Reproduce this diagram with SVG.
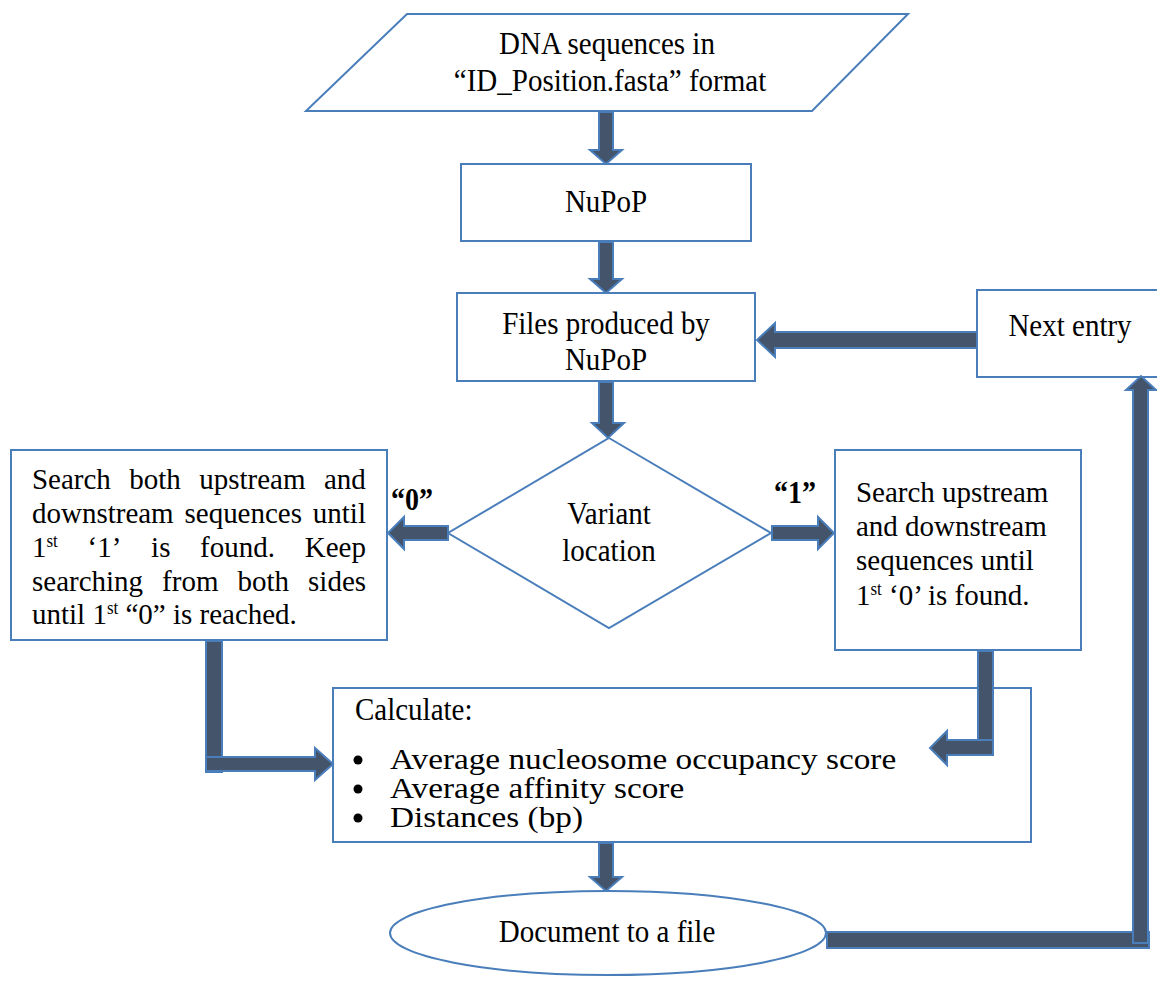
<svg xmlns="http://www.w3.org/2000/svg" width="1157" height="983" viewBox="0 0 1157 983">
<style>
.box{fill:#ffffff;stroke:#4a7ebb;stroke-width:2}
.arr{fill:#44546a;stroke:#4a7ebb;stroke-width:2;stroke-linejoin:miter}
.dot{fill:#000}
text{font-family:'Liberation Serif','Times New Roman',Times,'DejaVu Serif',serif;font-size:29px;fill:#000}
.c{text-anchor:middle}
.b{font-weight:bold;font-size:28px}
.sup{font-size:17px}
</style>
<rect width="1157" height="983" fill="#ffffff"/>
<g id="input">
<polygon class="box" points="407,14 908,14 812,111 306,111"/>
<text class="c" transform="translate(607,54) scale(1,1.08)">DNA sequences in</text>
<text class="c" transform="translate(610,91) scale(1,1.08)">“ID_Position.fasta” format</text>
</g>
<g id="nupop">
<rect class="box" x="461" y="164" width="290" height="77"/>
<text class="c" transform="translate(606,212) scale(1,1.08)">NuPoP</text>
</g>
<g id="files">
<rect class="box" x="457" y="293" width="298" height="88"/>
<text class="c" transform="translate(606,334) scale(1,1.08)">Files produced by</text>
<text class="c" transform="translate(606,370) scale(1,1.08)">NuPoP</text>
</g>
<g id="next">
<rect class="box" x="977" y="290" width="190" height="87"/>
<text class="c" transform="translate(1070,336) scale(1,1.08)">Next entry</text>
</g>
<g id="variant">
<polygon class="box" points="609,438 771,533 609,628 448,533"/>
<text class="c" transform="translate(609,524) scale(1,1.08)">Variant</text>
<text class="c" transform="translate(609,561) scale(1,1.08)">location</text>
</g>
<g id="search0">
<rect class="box" x="11" y="450" width="376" height="190"/>
<text transform="translate(0,489) scale(1,1.05)"><tspan x="32" y="0">Search</tspan><tspan x="129.3" y="0">both</tspan><tspan x="199.3" y="0">upstream</tspan><tspan x="324" y="0">and</tspan></text>
<text transform="translate(0,523) scale(1,1.05)"><tspan x="32" y="0">downstream</tspan><tspan x="184.5" y="0">sequences</tspan><tspan x="312.8" y="0">until</tspan></text>
<text transform="translate(0,557) scale(1,1.05)"><tspan x="32" y="0">1</tspan><tspan class="sup" baseline-shift="super">st</tspan><tspan x="87.5" y="0">‘1’</tspan><tspan x="151.1" y="0">is</tspan><tspan x="200.1" y="0">found.</tspan><tspan x="304.8" y="0">Keep</tspan></text>
<text transform="translate(0,591) scale(1,1.05)"><tspan x="32" y="0">searching</tspan><tspan x="162.1" y="0">from</tspan><tspan x="237.5" y="0">both</tspan><tspan x="308.1" y="0">sides</tspan></text>
<text transform="translate(32,624) scale(1,1.05)">until 1<tspan class="sup" baseline-shift="super">st</tspan> “0” is reached.</text>
</g>
<g id="search1">
<rect class="box" x="835" y="450" width="246" height="200"/>
<text transform="translate(856,502) scale(1,1.05)">Search upstream</text>
<text transform="translate(856,536) scale(1,1.05)">and downstream</text>
<text transform="translate(856,570) scale(1,1.05)">sequences until</text>
<text transform="translate(856,605) scale(1,1.05)">1<tspan class="sup" baseline-shift="super">st</tspan> ‘0’ is found.</text>
</g>
<g id="calc">
<rect class="box" x="333" y="688" width="698" height="154"/>
<text transform="translate(355,720) scale(1,1.08)">Calculate:</text>
<circle class="dot" cx="358" cy="760" r="4.5"/>
<text transform="translate(390,769) scale(1.147,0.98)">Average nucleosome occupancy score</text>
<circle class="dot" cx="358" cy="789" r="4.5"/>
<text transform="translate(390,798) scale(1.147,0.98)">Average affinity score</text>
<circle class="dot" cx="358" cy="818" r="4.5"/>
<text transform="translate(390,827) scale(1.147,0.98)">Distances (bp)</text>
</g>
<g id="document">
<ellipse class="box" cx="608" cy="933" rx="218" ry="42"/>
<text class="c" transform="translate(607,942) scale(1,1.08)">Document to a file</text>
</g>
<g id="labels">
<text class="c b" transform="translate(412,510) scale(1,1.1)">“0”</text>
<text class="c b" transform="translate(795,503) scale(1,1.1)">“1”</text>
</g>
<g id="connectors">
<polygon class="arr" points="599,112 613,112 613,150 622,150 606,164 590,150 599,150"/>
<polygon class="arr" points="599,242 613,242 613,279 622,279 606,293 590,279 599,279"/>
<polygon class="arr" points="599,382 613,382 613,423 624,423 608,438 592,423 599,423"/>
<polygon class="arr" points="977,332 775,332 775,323 757,340 775,357 775,348 977,348"/>
<polygon class="arr" points="448,526 404,526 404,517 388,533 404,549 404,540 448,540"/>
<polygon class="arr" points="772,526 818,526 818,517 834,533 818,549 818,540 772,540"/>
<polygon class="arr" points="206,641 222,641 222,772 206,772"/>
<polygon class="arr" points="206,757 315,757 315,748 333,764 315,780 315,771 206,771"/>
<polygon class="arr" points="978,651 993,651 993,755 978,755"/>
<polygon class="arr" points="993,740 947,740 947,731 930,748 947,765 947,755 993,755"/>
<polygon class="arr" points="599,843 613,843 613,877 622,877 606,891 590,877 599,877"/>
<polygon class="arr" points="827,932 1149,932 1149,948 827,948"/>
<polygon class="arr" points="1133,943 1133,390 1126,390 1141,376 1156,390 1148,390 1148,943"/>
</g>
</svg>
